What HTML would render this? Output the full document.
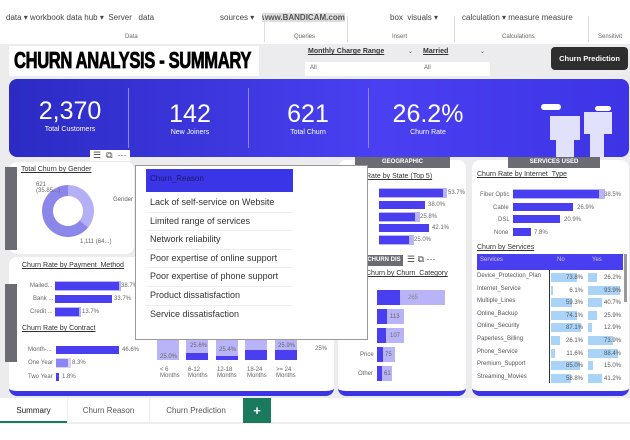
<!DOCTYPE html>
<html><head><style>
*{box-sizing:border-box;margin:0;padding:0}
body{width:630px;height:440px;overflow:hidden;background:#fff;font-family:"Liberation Sans",sans-serif;position:relative;color:#333}
.a{position:absolute}
.t{font-size:8px;color:#444;white-space:nowrap}
.s{font-size:6px;color:#666;white-space:nowrap}
.panel{position:absolute;background:#fff;border-radius:8px;border-bottom:5px solid #3b35e8}
.bar{position:absolute;background:#4a3ff0;height:8px}
.bg{position:absolute;background:#b9b4f7;height:10px}
.u{text-decoration:underline;font-size:7px;color:#333;white-space:nowrap}
.tab{position:absolute;background:#6b6b73;color:#fff;font-size:6px;font-weight:bold;text-align:center}
</style></head><body>
<!-- ribbon -->
<div class="a t" style="left:6px;top:13px;font-size:8px">data ▾ workbook data hub ▾ &nbsp;Server &nbsp;&nbsp;data</div>
<div class="a t" style="left:220px;top:13px">sources ▾</div>
<div class="a t" style="left:262px;top:13px;background:#ddd;color:#555;font-weight:bold">www.BANDICAM.com</div>
<div class="a t" style="left:390px;top:13px">box &nbsp;visuals ▾</div>
<div class="a t" style="left:462px;top:13px">calculation ▾ measure measure</div>
<div class="a s" style="left:125px;top:34px">Data</div>
<div class="a s" style="left:294px;top:34px">Queries</div>
<div class="a s" style="left:392px;top:34px">Insert</div>
<div class="a s" style="left:502px;top:34px">Calculations</div>
<div class="a s" style="left:598px;top:34px">Sensitivit</div>
<div class="a" style="left:264px;top:16px;width:1px;height:26px;background:#ddd"></div>
<div class="a" style="left:347px;top:16px;width:1px;height:26px;background:#ddd"></div>
<div class="a" style="left:454px;top:16px;width:1px;height:26px;background:#ddd"></div>
<div class="a" style="left:588px;top:16px;width:1px;height:26px;background:#ddd"></div>
<!-- body bg -->
<div class="a" style="left:0;top:44px;width:630px;height:354px;background:#ececef"></div>
<div class="a" style="left:9px;top:46px;width:250px;height:30px;background:#fff"></div>
<div class="a" style="left:14px;top:47px;font-size:23px;font-weight:bold;letter-spacing:-0.5px;color:#000;transform:scaleX(.72);transform-origin:left;-webkit-text-stroke:0.8px #000">CHURN ANALYSIS - SUMMARY</div>
<div class="a" style="left:305px;top:62px;width:185px;height:14px;background:#fff"></div>
<div class="a u" style="left:308px;top:48px;font-weight:bold;font-size:7px">Monthly Charge Range</div>
<div class="a u" style="left:423px;top:48px;font-weight:bold;font-size:7px">Married</div>
<div class="a s" style="left:310px;top:65px">All</div><div class="a s" style="left:424px;top:65px">All</div>
<div class="a s" style="left:408px;top:48px">⌄</div><div class="a s" style="left:480px;top:48px">⌄</div>
<div class="a" style="left:551px;top:47px;width:77px;height:23px;background:#2e2e2e;border-radius:4px;color:#fff;font-size:7.5px;font-weight:bold;text-align:center;line-height:23px">Churn Prediction</div>
<!-- banner -->
<div class="a" style="left:9px;top:79px;width:620px;height:78px;border-radius:8px;background:linear-gradient(90deg,#2b2bc4,#4a40f2 60%,#3d34e6)"></div>
<div class="a" style="left:128px;top:88px;width:1px;height:60px;background:#8a85f0"></div>
<div class="a" style="left:248px;top:88px;width:1px;height:60px;background:#8a85f0"></div>
<div class="a" style="left:368px;top:88px;width:1px;height:60px;background:#8a85f0"></div>
<div class="a" style="left:20px;top:97px;width:100px;text-align:center;color:#fff"><div style="font-size:25px">2,370</div><div style="font-size:7px">Total Customers</div></div>
<div class="a" style="left:140px;top:100px;width:100px;text-align:center;color:#fff"><div style="font-size:25px">142</div><div style="font-size:7px">New Joiners</div></div>
<div class="a" style="left:258px;top:100px;width:100px;text-align:center;color:#fff"><div style="font-size:25px">621</div><div style="font-size:7px">Total Churn</div></div>
<div class="a" style="left:378px;top:100px;width:100px;text-align:center;color:#fff"><div style="font-size:25px">26.2%</div><div style="font-size:7px">Churn Rate</div></div>
<div class="a" style="left:550px;top:116px;width:30px;height:24px;background:#fff;opacity:.85"></div>
<div class="a" style="left:584px;top:112px;width:28px;height:22px;background:#fff;opacity:.85"></div>
<div class="a" style="left:556px;top:140px;width:18px;height:17px;background:#fff;opacity:.85"></div>
<div class="a" style="left:590px;top:134px;width:14px;height:23px;background:#fff;opacity:.85"></div>
<div class="a" style="left:541px;top:104px;width:20px;height:6px;background:#fff;border-radius:4px"></div>
<div class="a" style="left:595px;top:106px;width:16px;height:5px;background:#fff;border-radius:4px"></div>
<!-- demographic -->
<div class="panel" style="left:9px;top:162px;width:125px;height:92px;border-bottom:none"></div>
<div class="tab" style="left:5px;top:167px;width:12px;height:83px"></div>
<div class="a u" style="left:21px;top:166px">Total Churn by Gender</div>
<div class="a" style="left:42px;top:185px;width:52px;height:52px;border-radius:50%;background:conic-gradient(#b5b0f5 0 36%,#8b86ea 36% 100%)"></div>
<div class="a" style="left:53px;top:196px;width:30px;height:30px;border-radius:50%;background:#fff"></div>
<div class="a s" style="left:36px;top:182px">621<br>(35.85...)</div>
<div class="a s" style="left:80px;top:239px">1,111 (64...)</div>
<div class="a s" style="left:113px;top:197px">Gender</div>
<!-- account -->
<div class="panel" style="left:9px;top:257px;width:325px;height:139px"></div>
<div class="tab" style="left:5px;top:284px;width:12px;height:78px"></div>
<div class="a u" style="left:22px;top:262px">Churn Rate by Payment_Method</div>
<div class="a s" style="left:30px;top:283px">Mailed...</div><div class="bg" style="left:55px;top:281px;width:66px"></div><div class="bar" style="left:55px;top:282px;width:64px"></div><div class="a s" style="left:121px;top:283px">38.7%</div>
<div class="a s" style="left:33px;top:296px">Bank ...</div><div class="bar" style="left:55px;top:295px;width:57px"></div><div class="a s" style="left:114px;top:296px">33.7%</div>
<div class="a s" style="left:30px;top:309px">Credit ...</div><div class="bg" style="left:55px;top:307px;width:26px"></div><div class="bar" style="left:55px;top:308px;width:24px"></div><div class="a s" style="left:82px;top:309px">13.7%</div>
<div class="a u" style="left:22px;top:325px">Churn Rate by Contract</div>
<div class="a s" style="left:28px;top:347px">Month-...</div><div class="bar" style="left:56px;top:346px;width:63px"></div><div class="a s" style="left:122px;top:347px">46.6%</div>
<div class="a s" style="left:28px;top:360px">One Year</div><div class="bar" style="left:56px;top:359px;width:12px"></div><div class="bg" style="left:56px;top:358px;width:15px;opacity:.6"></div><div class="a s" style="left:72px;top:360px">8.3%</div>
<div class="a s" style="left:28px;top:374px">Two Year</div><div class="bar" style="left:56px;top:373px;width:3px"></div><div class="a s" style="left:62px;top:374px">1.8%</div>
<!-- tenure -->
<div class="a" style="left:157px;top:340px;width:22px;height:20px;background:#b9b4f7"></div>
<div class="a" style="left:186px;top:340px;width:22px;height:20px;background:#b9b4f7"></div><div class="a" style="left:186px;top:353px;width:22px;height:7px;background:#4a3ff0"></div>
<div class="a" style="left:216px;top:340px;width:22px;height:20px;background:#b9b4f7"></div><div class="a" style="left:216px;top:356px;width:22px;height:4px;background:#4a3ff0"></div>
<div class="a" style="left:245px;top:340px;width:22px;height:20px;background:#4a3ff0"></div><div class="a" style="left:245px;top:340px;width:22px;height:10px;background:#b9b4f7"></div>
<div class="a" style="left:275px;top:340px;width:22px;height:20px;background:#4a3ff0"></div><div class="a" style="left:275px;top:340px;width:22px;height:10px;background:#b9b4f7"></div>
<div class="a s" style="left:160px;top:354px">25.0%</div><div class="a s" style="left:190px;top:343px">25.6%</div><div class="a s" style="left:219px;top:347px">25.4%</div><div class="a s" style="left:278px;top:343px">25.9%</div><div class="a s" style="left:315px;top:346px">25%</div>
<div class="a s" style="left:157px;top:367px;width:170px;word-spacing:0">
<span style="position:absolute;left:3px">&lt; 6<br>Months</span><span style="position:absolute;left:31px">6-12<br>Months</span><span style="position:absolute;left:60px">12-18<br>Months</span><span style="position:absolute;left:90px">18-24<br>Months</span><span style="position:absolute;left:119px">&gt;= 24<br>Months</span></div>
<!-- geographic -->
<div class="panel" style="left:338px;top:160px;width:128px;height:236px"></div>
<div class="tab" style="left:355px;top:157px;width:95px;height:11px;line-height:11px">GEOGRAPHIC</div>
<div class="a u" style="left:366px;top:173px">Rate by State (Top 5)</div>
<div class="bg" style="left:379px;top:188px;width:68px"></div><div class="bar" style="left:379px;top:189px;width:64px"></div><div class="a s" style="left:448px;top:190px">53.7%</div>
<div class="bar" style="left:379px;top:201px;width:46px"></div><div class="a s" style="left:428px;top:202px">38.0%</div>
<div class="bg" style="left:379px;top:212px;width:41px"></div><div class="bar" style="left:379px;top:213px;width:36px"></div><div class="a s" style="left:420px;top:214px">25.8%</div>
<div class="bar" style="left:379px;top:224px;width:50px"></div><div class="a s" style="left:432px;top:225px">42.1%</div>
<div class="bg" style="left:379px;top:235px;width:35px"></div><div class="bar" style="left:379px;top:236px;width:30px"></div><div class="a s" style="left:414px;top:237px">25.0%</div>
<div class="tab" style="left:365px;top:255px;width:38px;height:11px;line-height:11px">CHURN DIS</div>
<div class="a t" style="left:407px;top:254px;font-size:9px">☰ ⧉ ⋯</div>
<div class="a u" style="left:366px;top:270px">Churn by Churn_Category</div>
<div class="a" style="left:377px;top:290px;width:68px;height:15px;background:#b9b4f7"></div><div class="a" style="left:377px;top:290px;width:23px;height:15px;background:#4a3ff0"></div><div class="a s" style="left:408px;top:295px;color:#888">265</div>
<div class="a" style="left:377px;top:309px;width:27px;height:15px;background:#b9b4f7"></div><div class="a" style="left:377px;top:309px;width:10px;height:15px;background:#4a3ff0"></div><div class="a s" style="left:390px;top:314px">113</div>
<div class="a" style="left:377px;top:328px;width:27px;height:15px;background:#b9b4f7"></div><div class="a" style="left:377px;top:328px;width:9px;height:15px;background:#4a3ff0"></div><div class="a s" style="left:390px;top:333px">107</div>
<div class="a s" style="left:360px;top:352px">Price</div><div class="a" style="left:377px;top:347px;width:18px;height:15px;background:#b9b4f7"></div><div class="a" style="left:377px;top:347px;width:6px;height:15px;background:#4a3ff0"></div><div class="a s" style="left:385px;top:352px">75</div>
<div class="a s" style="left:358px;top:371px">Other</div><div class="a" style="left:377px;top:366px;width:15px;height:15px;background:#b9b4f7"></div><div class="a" style="left:377px;top:366px;width:5px;height:15px;background:#4a3ff0"></div><div class="a s" style="left:384px;top:371px">61</div>
<!-- services -->
<div class="panel" style="left:472px;top:160px;width:157px;height:236px"></div>
<div class="tab" style="left:508px;top:157px;width:92px;height:11px;line-height:11px">SERVICES USED</div>
<div class="a u" style="left:477px;top:171px">Churn Rate by Internet_Type</div>
<div class="a s" style="left:480px;top:192px">Fiber Optic</div><div class="bg" style="left:513px;top:189px;width:92px"></div><div class="bar" style="left:513px;top:190px;width:86px"></div><div class="a s" style="left:604px;top:192px">38.5%</div>
<div class="a s" style="left:493px;top:205px">Cable</div><div class="bar" style="left:513px;top:203px;width:60px"></div><div class="a s" style="left:577px;top:205px">26.9%</div>
<div class="a s" style="left:498px;top:217px">DSL</div><div class="bar" style="left:513px;top:215px;width:47px"></div><div class="a s" style="left:564px;top:217px">20.9%</div>
<div class="a s" style="left:494px;top:230px">None</div><div class="bar" style="left:513px;top:228px;width:18px"></div><div class="a s" style="left:534px;top:230px">7.8%</div>
<div class="a u" style="left:477px;top:244px">Churn by Services</div>
<div class="a" style="left:477px;top:254px;width:146px;height:16px;background:#4a3ff0"></div>
<div class="a s" style="left:480px;top:257px;color:#ccc">Services</div><div class="a s" style="left:557px;top:257px;color:#ccc">No</div><div class="a s" style="left:592px;top:257px;color:#ccc">Yes</div>
<div class="a" style="left:624px;top:254px;width:3px;height:48px;background:#999"></div>
<div class="a" style="left:549px;top:270px;width:1px;height:113px;background:#333"></div>
<div class="a" style="left:477px;top:270px;font-size:6px;color:#555;line-height:12.6px">
Device_Protection_Plan<br>Internet_Service<br>Multiple_Lines<br>Online_Backup<br>Online_Security<br>Paperless_Billing<br>Phone_Service<br>Premium_Support<br>Streaming_Movies</div>
<div class="a" style="left:551px;top:272px;font-size:6px;color:#555;line-height:12.6px;width:70px">
<div style="position:relative;height:12.6px"><span style="position:absolute;left:0;top:1px;width:26px;height:9px;background:#a9d3f7"></span><span style="position:absolute;right:38px">73.8%</span><span style="position:absolute;left:37px;top:1px;width:9px;height:9px;background:#a9d3f7"></span><span style="position:absolute;right:0">26.2%</span></div>
<div style="position:relative;height:12.6px"><span style="position:absolute;left:0;top:1px;width:2px;height:9px;background:#a9d3f7"></span><span style="position:absolute;right:38px">6.1%</span><span style="position:absolute;left:37px;top:1px;width:32px;height:9px;background:#a9d3f7"></span><span style="position:absolute;right:0">93.9%</span></div>
<div style="position:relative;height:12.6px"><span style="position:absolute;left:0;top:1px;width:21px;height:9px;background:#a9d3f7"></span><span style="position:absolute;right:38px">59.3%</span><span style="position:absolute;left:37px;top:1px;width:14px;height:9px;background:#a9d3f7"></span><span style="position:absolute;right:0">40.7%</span></div>
<div style="position:relative;height:12.6px"><span style="position:absolute;left:0;top:1px;width:26px;height:9px;background:#a9d3f7"></span><span style="position:absolute;right:38px">74.1%</span><span style="position:absolute;left:37px;top:1px;width:9px;height:9px;background:#a9d3f7"></span><span style="position:absolute;right:0">25.9%</span></div>
<div style="position:relative;height:12.6px"><span style="position:absolute;left:0;top:1px;width:30px;height:9px;background:#a9d3f7"></span><span style="position:absolute;right:38px">87.1%</span><span style="position:absolute;left:37px;top:1px;width:4px;height:9px;background:#a9d3f7"></span><span style="position:absolute;right:0">12.9%</span></div>
<div style="position:relative;height:12.6px"><span style="position:absolute;left:0;top:1px;width:9px;height:9px;background:#a9d3f7"></span><span style="position:absolute;right:38px">26.1%</span><span style="position:absolute;left:37px;top:1px;width:25px;height:9px;background:#a9d3f7"></span><span style="position:absolute;right:0">73.9%</span></div>
<div style="position:relative;height:12.6px"><span style="position:absolute;left:0;top:1px;width:4px;height:9px;background:#a9d3f7"></span><span style="position:absolute;right:38px">11.6%</span><span style="position:absolute;left:37px;top:1px;width:30px;height:9px;background:#a9d3f7"></span><span style="position:absolute;right:0">88.4%</span></div>
<div style="position:relative;height:12.6px"><span style="position:absolute;left:0;top:1px;width:29px;height:9px;background:#a9d3f7"></span><span style="position:absolute;right:38px">85.0%</span><span style="position:absolute;left:37px;top:1px;width:5px;height:9px;background:#a9d3f7"></span><span style="position:absolute;right:0">15.0%</span></div>
<div style="position:relative;height:12.6px"><span style="position:absolute;left:0;top:1px;width:20px;height:9px;background:#a9d3f7"></span><span style="position:absolute;right:38px">58.8%</span><span style="position:absolute;left:37px;top:1px;width:14px;height:9px;background:#a9d3f7"></span><span style="position:absolute;right:0">41.2%</span></div>
</div>
<!-- popup -->
<div class="a t" style="left:90px;top:150px;font-size:9px;background:#fff;padding:0 3px">☰ &nbsp;⧉ &nbsp;⋯</div>
<div class="a" style="left:135px;top:165px;width:233px;height:175px;background:#fff;border:1px solid #999"></div>
<div class="a" style="left:146px;top:169px;width:147px;height:23px;background:#3b35e8;color:#1a1a60;font-size:8px;padding:5px 4px">Churn_Reason</div>
<div class="a" style="left:146px;top:194px;width:147px;font-size:9px;color:#333;line-height:17.6px">
<div style="border-bottom:1px solid #eee;padding-left:4px">Lack of self-service on Website</div>
<div style="border-bottom:1px solid #eee;padding-left:4px">Limited range of services</div>
<div style="border-bottom:1px solid #eee;padding-left:4px">Network reliability</div>
<div style="border-bottom:1px solid #eee;padding-left:4px">Poor expertise of online support</div>
<div style="border-bottom:1px solid #eee;padding-left:4px">Poor expertise of phone support</div>
<div style="border-bottom:1px solid #eee;padding-left:4px">Product dissatisfaction</div>
<div style="padding-left:4px">Service dissatisfaction</div></div>
<!-- tabs -->
<div class="a" style="left:0;top:398px;width:630px;height:26px;background:#fff;border-bottom:2px solid #eee"></div>
<div class="a" style="left:0;top:398px;width:67px;height:25px;border-bottom:2px solid #1a7a5e;font-size:8px;color:#222;text-align:center;line-height:25px">Summary</div>
<div class="a" style="left:67px;top:398px;width:82px;height:25px;border-left:1px solid #eee;font-size:8px;color:#555;text-align:center;line-height:25px">Churn Reason</div>
<div class="a" style="left:149px;top:398px;width:93px;height:25px;border-left:1px solid #eee;font-size:8px;color:#555;text-align:center;line-height:25px">Churn Prediction</div>
<div class="a" style="left:243px;top:398px;width:28px;height:25px;background:#1a7a5e;color:#fff;font-size:13px;font-weight:bold;text-align:center;line-height:25px">+</div>
</body></html>
